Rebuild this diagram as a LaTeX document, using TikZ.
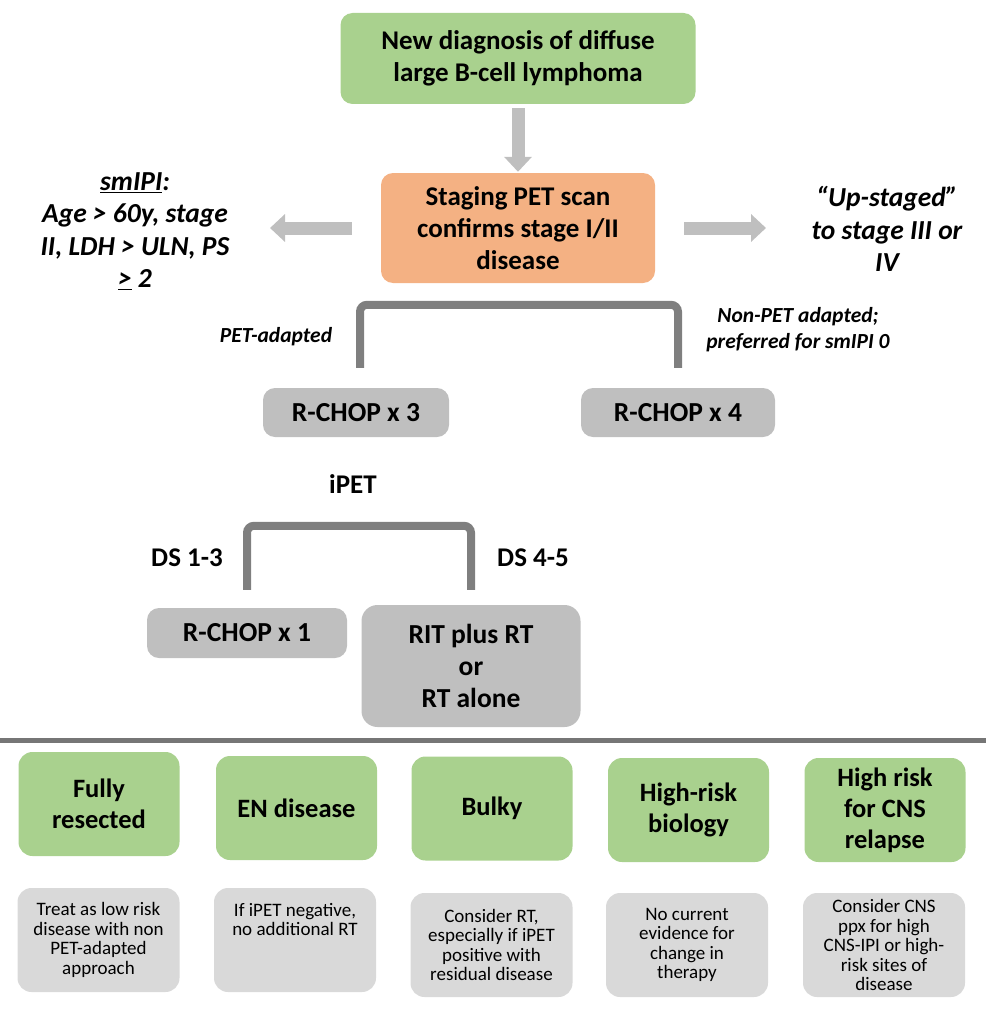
\documentclass[tikz,border=0pt]{standalone}
\usepackage{fontspec}
\setmainfont{Carlito}
\usetikzlibrary{arrows.meta}
\definecolor{boxgreen}{HTML}{A9D18E}
\definecolor{boxorange}{HTML}{F4B183}
\definecolor{boxgray}{HTML}{BFBFBF}
\definecolor{lightgray}{HTML}{D9D9D9}
\definecolor{arrowgray}{HTML}{BFBFBF}
\definecolor{bracketgray}{HTML}{7F7F7F}
\definecolor{rulegray}{HTML}{767676}
\begin{document}
\begin{tikzpicture}[x=1pt,y=-1pt,
  base/.style={rounded corners=12pt, align=center, inner sep=0pt, text=black,
    font=\bfseries\fontsize{27}{32}\selectfont},
  gbox/.style={base, fill=boxgreen},
  obox/.style={base, fill=boxorange},
  rbox/.style={base, fill=boxgray, font=\bfseries\fontsize{27.5}{32}\selectfont},
  catbox/.style={base, fill=boxgreen, rounded corners=14pt, minimum width=161pt, minimum height=104pt,
    font=\bfseries\fontsize{26.5}{31}\selectfont},
  notebox/.style={base, fill=lightgray, rounded corners=14pt, minimum width=162pt, minimum height=104pt,
    font=\fontsize{19}{19.5}\selectfont},
  side/.style={align=center, inner sep=0pt, font=\bfseries\itshape\fontsize{27.5}{32.5}\selectfont},
  small/.style={align=center, inner sep=0pt, font=\bfseries\itshape\fontsize{21.5}{26}\selectfont},
  lbl/.style={align=center, inner sep=0pt, font=\bfseries\fontsize{27}{30}\selectfont},
  bigarrow/.style={draw=arrowgray, line width=13pt, -{Triangle[width=27pt,length=15pt]}},
  bracket/.style={draw=bracketgray, line width=8pt, rounded corners=7pt},
  divider/.style={draw=rulegray, line width=5pt}
]
\useasboundingbox (0,0) rectangle (986,1014);

% top part
\node[gbox, minimum width=355pt, minimum height=91pt] (dx) at (518,58.5)
  {New diagnosis of diffuse\\large B-cell lymphoma};
\node[obox, minimum width=274pt, minimum height=110pt] (stage) at (518,228)
  {Staging PET scan\\confirms stage I/II\\disease};
\draw[bigarrow, shorten <=4pt, shorten >=1pt] (dx) -- (stage);

\node[side] (smipi) at (135,231)
  {\underline{smIPI}:\\Age > 60y, stage\\II, LDH > ULN, PS\\\underline{>} 2};
\node[side] (up) at (887,229) {“Up-staged”\\to stage III or\\IV};
\coordinate (la) at (270,228);
\coordinate (ra) at (766,228);
\draw[bigarrow] ([xshift=-29pt]stage.west) -- (la);
\draw[bigarrow] ([xshift=29pt]stage.east) -- (ra);

% first branch
\node[rbox, minimum width=186pt, minimum height=49pt] (r3) at (356,412.5) {R-CHOP x 3};
\node[rbox, minimum width=194pt, minimum height=49pt] (r4) at (678,412.5) {R-CHOP x 4};
\draw[bracket] ([xshift=4pt,yshift=20pt]r3.north) -- ++(0,-63) -| ([yshift=20pt]r4.north);
\node[small] (peta) at (276,337) {PET-adapted};
\node[small] (npeta) at (798,330) {Non-PET adapted;\\preferred for smIPI 0};

% second branch
\node[lbl] (ipet) at (353,484) {iPET};
\node[rbox, minimum width=200pt, minimum height=50pt] (r1) at (247,633) {R-CHOP x 1};
\node[rbox, minimum width=219pt, minimum height=122pt, rounded corners=16pt] (rit) at (471,666)
  {RIT plus RT\\or\\RT alone};
\draw[bracket] ([yshift=18pt]r1.north) -- ++(0,-64) -| ([yshift=15pt]rit.north);
\node[lbl] (ds13) at (187,558) {DS 1-3};
\node[lbl] (ds45) at (533,558) {DS 4-5};

% divider
\coordinate (dl) at (0,740);
\coordinate (dr) at (986,740);
\draw[divider] (dl) -- (dr);

% bottom categories
\node[catbox] (c1) at (99,804) {Fully\\resected};
\node[catbox] (c2) at (296.5,808) {EN disease};
\node[catbox] (c3) at (492,808.5) {Bulky};
\node[catbox] (c4) at (688.5,810) {High-risk\\biology};
\node[catbox] (c5) at (885,810) {High risk\\for CNS\\relapse};

\node[notebox] (n1) at (98.5,940) {Treat as low risk\\disease with non\\PET-adapted\\approach};
\node[notebox] (n2) at (295,940) {If iPET negative,\\no additional RT\\[22pt]};
\node[notebox] (n3) at (491.5,945) {Consider RT,\\especially if iPET\\positive with\\residual disease};
\node[notebox] (n4) at (687,945) {No current\\evidence for\\change in\\therapy};
\node[notebox] (n5) at (884,945) {Consider CNS\\ppx for high\\CNS-IPI or high-\\risk sites of\\disease};
\end{tikzpicture}
\end{document}
